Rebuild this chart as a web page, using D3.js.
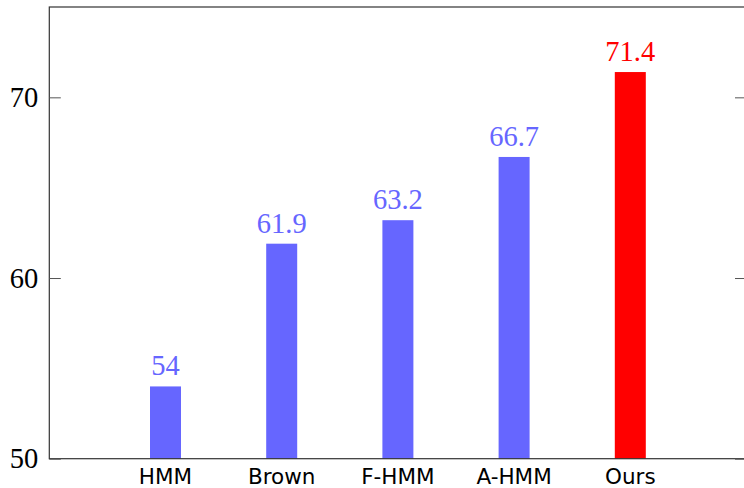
<!DOCTYPE html>
<html>
<head>
<meta charset="utf-8">
<script src="https://cdn.jsdelivr.net/npm/d3@7"></script>
<style>
  html, body { margin: 0; padding: 0; background: #fff; }
  svg { display: block; }
</style>
</head>
<body>
<svg id="chart" width="744" height="488"></svg>
<script>
const categories = ["HMM", "Brown", "F-HMM", "A-HMM", "Ours"];
const values = [54, 61.9, 63.2, 66.7, 71.4];
const valueLabels = ["54", "61.9", "63.2", "66.7", "71.4"];
const barColors = ["#6666ff", "#6666ff", "#6666ff", "#6666ff", "#ff0000"];
const yTicks = [50, 60, 70];

const svg = d3.select("#chart");
const pLeft = 49.3, pRight = 746.5, pTop = 7, pBottom = 458.7;

// linear x positions 1..5 within [0, 6]
const x = d3.scaleLinear().domain([0, 6]).range([pLeft, pRight]);
const y = d3.scaleLinear().domain([50, 75]).range([pBottom, pTop]);
const barW = 31;

// bars
svg.append("g").selectAll("rect").data(values).join("rect")
  .attr("x", (d, i) => x(i + 1) - barW / 2)
  .attr("y", d => y(d))
  .attr("width", barW)
  .attr("height", d => y(50) - y(d))
  .attr("fill", (d, i) => barColors[i]);

// value labels
svg.append("g").selectAll("text").data(values).join("text")
  .attr("x", (d, i) => x(i + 1))
  .attr("y", d => y(d) - 11)
  .attr("text-anchor", "middle")
  .attr("font-family", "'Liberation Serif', serif")
  .attr("font-size", 28.5)
  .attr("fill", (d, i) => barColors[i])
  .text((d, i) => valueLabels[i]);

// frame
svg.append("rect")
  .attr("x", pLeft).attr("y", pTop)
  .attr("width", pRight - pLeft).attr("height", pBottom - pTop)
  .attr("fill", "none").attr("stroke", "#333").attr("stroke-width", 1.2);

// left axis (ticks inward)
const yAxisL = d3.axisRight(y).tickValues(yTicks).tickSize(11.5).tickFormat("");
const gL = svg.append("g").attr("transform", `translate(${pLeft},0)`).call(yAxisL);
gL.select(".domain").remove();
gL.selectAll(".tick line").attr("stroke", "#555").attr("stroke-width", 1);

// right axis ticks inward
const yAxisR = d3.axisLeft(y).tickValues(yTicks).tickSize(11.5).tickFormat("");
const gR = svg.append("g").attr("transform", `translate(${pRight},0)`).call(yAxisR);
gR.select(".domain").remove();
gR.selectAll(".tick line").attr("stroke", "#555").attr("stroke-width", 1);

// y tick labels
svg.append("g").selectAll("text").data(yTicks).join("text")
  .attr("x", pLeft - 11)
  .attr("y", d => y(d) + 9.5)
  .attr("text-anchor", "end")
  .attr("font-family", "'Liberation Serif', serif")
  .attr("font-size", 28.5)
  .attr("fill", "#000")
  .text(d => d);

// x category labels
svg.append("g").selectAll("text").data(categories).join("text")
  .attr("x", (d, i) => x(i + 1))
  .attr("y", 484)
  .attr("text-anchor", "middle")
  .attr("font-family", "'DejaVu Sans', sans-serif")
  .attr("font-size", 21.5)
  .attr("fill", "#000")
  .text(d => d);
</script>
</body>
</html>
